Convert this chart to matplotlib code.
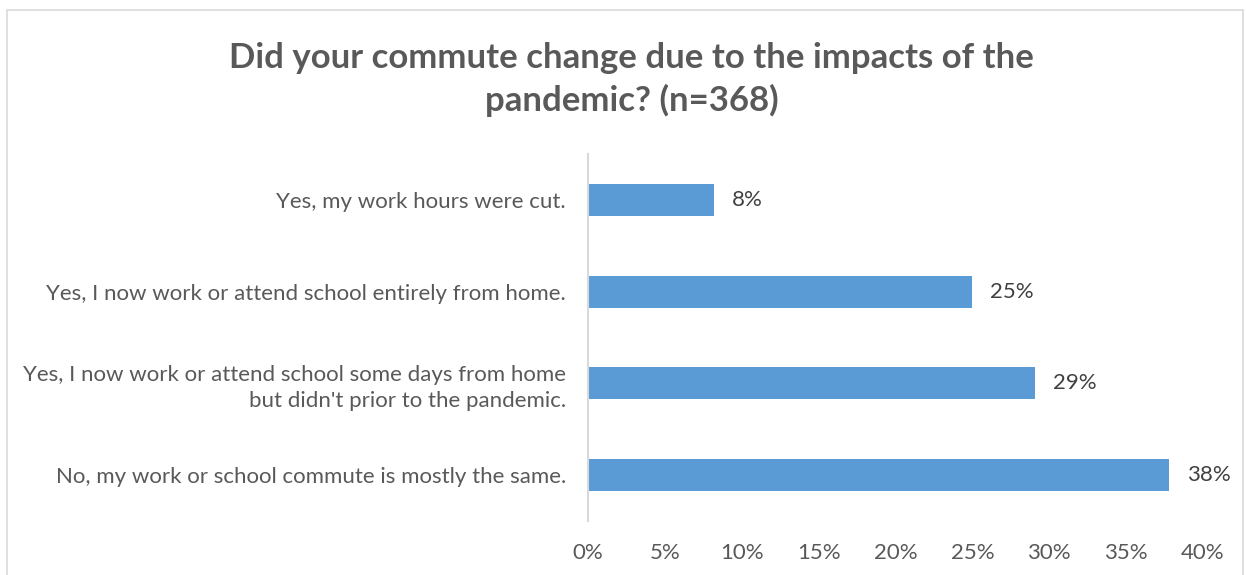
import matplotlib.pyplot as plt
from matplotlib.ticker import MultipleLocator, FuncFormatter
from matplotlib.patches import Rectangle

plt.rcParams['font.family'] = ['Lato', 'DejaVu Sans']

categories = [
    "Yes, my work hours were cut.",
    "Yes, I now work or attend school entirely from home.",
    "Yes, I now work or attend school some days from home\nbut didn't prior to the pandemic.",
    "No, my work or school commute is mostly the same.",
]
values = [8.2, 25.0, 29.1, 37.8]
value_labels = ["8%", "25%", "29%", "38%"]

gray = '#595959'
blue = '#5B9BD5'

fig = plt.figure(figsize=(12.46, 5.75), dpi=100)
ax = fig.add_axes([588 / 1246, 1 - 521 / 575, (1203 - 588) / 1246, 367 / 575])

pos = list(range(len(categories)))
ax.barh(pos, values, height=0.35, color=blue)
ax.set_ylim(3.5, -0.5)
ax.set_xlim(0, 40)
ax.xaxis.set_major_locator(MultipleLocator(5))
ax.xaxis.set_major_formatter(FuncFormatter(lambda v, p: f"{v:.0f}%"))
ax.set_yticks(pos)
ax.set_yticklabels(categories, fontsize=16, color=gray, linespacing=1.35)
ax.tick_params(axis='x', labelsize=16, labelcolor=gray, length=0, pad=16)
ax.tick_params(axis='y', length=0, pad=16)
for lbl in ax.get_yticklabels():
    lbl.set_horizontalalignment('right')
for s in ['top', 'right', 'bottom']:
    ax.spines[s].set_visible(False)
ax.spines['left'].set_color('#D9D9D9')
ax.spines['left'].set_linewidth(1.5)

for p, v, t in zip(pos, values, value_labels):
    ax.annotate(t, (v, p), xytext=(13, 0), textcoords='offset points',
                va='center', ha='left', fontsize=16, color='#404040')

fig.text(0.507, 0.862, "Did your commute change due to the impacts of the\npandemic? (n=368)",
         ha='center', va='center', fontsize=25, fontweight='bold', color=gray,
         linespacing=1.35)

fig.patches.append(Rectangle((7 / 1246, -0.01), 1236 / 1246, 1 - 10 / 575 + 0.01,
                             transform=fig.transFigure, fill=False,
                             edgecolor='#D9D9D9', linewidth=1.2))

fig.savefig('out.png', dpi=100)
